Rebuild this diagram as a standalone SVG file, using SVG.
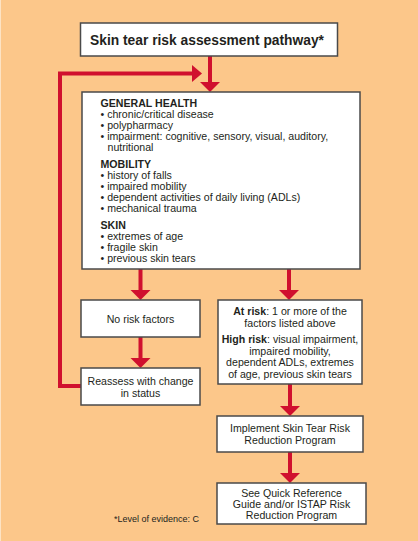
<svg xmlns="http://www.w3.org/2000/svg" width="418" height="541" viewBox="0 0 418 541">
<defs>
<style>
.box{fill:#fff;stroke:#4a4a4a;stroke-width:1.5}
.ln{stroke:#d0102e;stroke-width:4;fill:none}
.ah{fill:#d0102e}
text{font-family:"Liberation Sans",Arial,sans-serif;font-size:10.6px;fill:#231f20}
.b{font-weight:bold}
.c{text-anchor:middle}
</style>
</defs>
<rect x="0" y="0" width="418" height="541" fill="#fcc78a"/>
<rect x="0" y="0" width="1" height="541" fill="#fde3c4"/>
<g id="connectors">
<path class="ln" d="M210,56 V83"/>
<polygon class="ah" points="200,82 220,82 210,92"/>
<path class="ln" d="M81,386 H60 V73.5 H193"/>
<polygon class="ah" points="192,65 192,82 202,73.5"/>
<path class="ln" d="M140.5,269 V291"/>
<polygon class="ah" points="130.5,290 150.5,290 140.5,300"/>
<path class="ln" d="M140.5,337 V359"/>
<polygon class="ah" points="130.5,358 150.5,358 140.5,368"/>
<path class="ln" d="M289,269 V291"/>
<polygon class="ah" points="279,290 299,290 289,300"/>
<path class="ln" d="M290,384 V407"/>
<polygon class="ah" points="280,406 300,406 290,416"/>
<path class="ln" d="M290,452 V474"/>
<polygon class="ah" points="280,473 300,473 290,483"/>
</g>
<g id="title">
<rect class="box" x="80.5" y="23" width="257" height="33"/>
<text class="b c" x="207" y="45" style="font-size:13.8px">Skin tear risk assessment pathway*</text>
</g>
<g id="factors">
<rect class="box" x="82" y="92" width="278" height="177"/>
<text x="100.5" y="107" class="b">GENERAL HEALTH</text>
<text x="100.5" y="118">• chronic/critical disease</text>
<text x="100.5" y="129">• polypharmacy</text>
<text x="100.5" y="140">• impairment: cognitive, sensory, visual, auditory,</text>
<text x="107.5" y="151">nutritional</text>
<text x="100.5" y="167.5" class="b">MOBILITY</text>
<text x="100.5" y="178.5">• history of falls</text>
<text x="100.5" y="189.5">• impaired mobility</text>
<text x="100.5" y="200.5">• dependent activities of daily living (ADLs)</text>
<text x="100.5" y="211.5">• mechanical trauma</text>
<text x="100.5" y="228.5" class="b">SKIN</text>
<text x="100.5" y="239.5">• extremes of age</text>
<text x="100.5" y="250.5">• fragile skin</text>
<text x="100.5" y="261.5">• previous skin tears</text>
</g>
<g id="norisk">
<rect class="box" x="81" y="300" width="119" height="37"/>
<text class="c" x="140.5" y="322.5">No risk factors</text>
</g>
<g id="reassess">
<rect class="box" x="81" y="368" width="119" height="37"/>
<text class="c" x="140.5" y="385">Reassess with change</text>
<text class="c" x="140.5" y="397">in status</text>
</g>
<g id="atrisk">
<rect class="box" x="218" y="300" width="144" height="84"/>
<text class="c" x="290" y="315"><tspan class="b">At risk</tspan>: 1 or more of the</text>
<text class="c" x="290" y="326.5">factors listed above</text>
<text class="c" x="290" y="343"><tspan class="b">High risk</tspan>: visual impairment,</text>
<text class="c" x="290" y="354.5">impaired mobility,</text>
<text class="c" x="290" y="366">dependent ADLs, extremes</text>
<text class="c" x="290" y="377.5">of age, previous skin tears</text>
</g>
<g id="implement">
<rect class="box" x="217" y="416" width="146" height="36"/>
<text class="c" x="290" y="432">Implement Skin Tear Risk</text>
<text class="c" x="290" y="443.5">Reduction Program</text>
</g>
<g id="seequick">
<rect class="box" x="217" y="483" width="149" height="41"/>
<text class="c" x="291.5" y="496.5">See Quick Reference</text>
<text class="c" x="291.5" y="507.5">Guide and/or ISTAP Risk</text>
<text class="c" x="291.5" y="518.5">Reduction Program</text>
</g>
<g id="footnote">
<text x="114" y="522" style="font-size:9px">*Level of evidence: C</text>
</g>
</svg>
